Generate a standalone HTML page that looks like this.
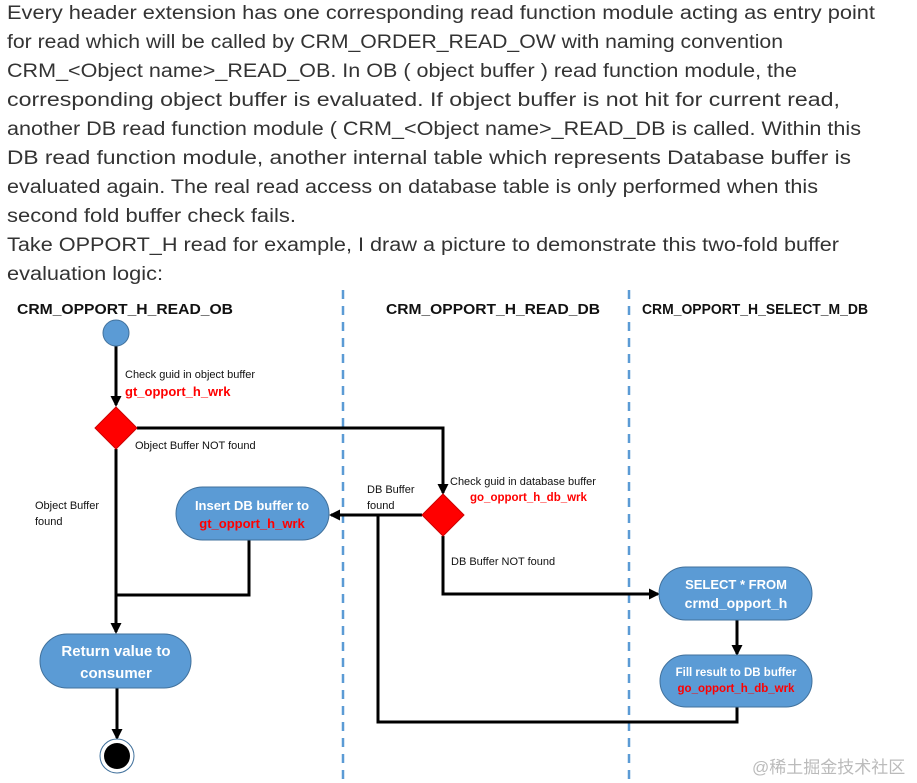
<!DOCTYPE html>
<html><head><meta charset="utf-8"><style>
html,body{margin:0;padding:0;background:#fff;width:917px;height:783px;overflow:hidden}
svg{display:block}
.p{font-family:"Liberation Sans",sans-serif;font-size:19px;fill:#333}
.h{font-family:"Liberation Sans",sans-serif;font-size:14.5px;font-weight:bold;fill:#111}
.s{font-family:"Liberation Sans",sans-serif;font-size:11px;fill:#111}
.r{font-family:"Liberation Sans",sans-serif;font-size:13px;font-weight:bold;fill:#f00}
.w{font-family:"Liberation Sans",sans-serif;font-weight:bold;fill:#fff}
</style></head><body>
<svg width="917" height="783" viewBox="0 0 917 783">
<defs><marker id="a" markerWidth="11" markerHeight="11" refX="9" refY="5.5" orient="auto" markerUnits="userSpaceOnUse"><path d="M0,0 L11,5.5 L0,11 z" fill="#000"/></marker></defs>
<g class="p">
<text x="7" y="19" textLength="868" lengthAdjust="spacingAndGlyphs">Every header extension has one corresponding read function module acting as entry point</text>
<text x="7" y="48" textLength="776" lengthAdjust="spacingAndGlyphs">for read which will be called by CRM_ORDER_READ_OW with naming convention</text>
<text x="7" y="77" textLength="790" lengthAdjust="spacingAndGlyphs">CRM_&lt;Object name&gt;_READ_OB. In OB ( object buffer ) read function module, the</text>
<text x="7" y="106" textLength="833" lengthAdjust="spacingAndGlyphs">corresponding object buffer is evaluated. If object buffer is not hit for current read,</text>
<text x="7" y="135" textLength="854" lengthAdjust="spacingAndGlyphs">another DB read function module ( CRM_&lt;Object name&gt;_READ_DB is called. Within this</text>
<text x="7" y="164" textLength="844" lengthAdjust="spacingAndGlyphs">DB read function module, another internal table which represents Database buffer is</text>
<text x="7" y="193" textLength="811" lengthAdjust="spacingAndGlyphs">evaluated again. The real read access on database table is only performed when this</text>
<text x="7" y="222" textLength="289" lengthAdjust="spacingAndGlyphs">second fold buffer check fails.</text>
<text x="7" y="251" textLength="832" lengthAdjust="spacingAndGlyphs">Take OPPORT_H read for example, I draw a picture to demonstrate this two-fold buffer</text>
<text x="7" y="280" textLength="156" lengthAdjust="spacingAndGlyphs">evaluation logic:</text>
</g>
<line x1="343" y1="290" x2="343" y2="783" stroke="#5b9bd5" stroke-width="2.5" stroke-dasharray="9,7"/>
<line x1="629" y1="290" x2="629" y2="783" stroke="#5b9bd5" stroke-width="2.5" stroke-dasharray="9,7"/>
<text class="h" x="17" y="314" textLength="216" lengthAdjust="spacingAndGlyphs">CRM_OPPORT_H_READ_OB</text>
<text class="h" x="386" y="314" textLength="214" lengthAdjust="spacingAndGlyphs">CRM_OPPORT_H_READ_DB</text>
<text class="h" x="642" y="314" textLength="226" lengthAdjust="spacingAndGlyphs">CRM_OPPORT_H_SELECT_M_DB</text>
<g stroke="#000" stroke-width="3" fill="none">
<line x1="116" y1="346" x2="116" y2="405" marker-end="url(#a)"/>
<polyline points="137,428 443,428 443,493" marker-end="url(#a)"/>
<line x1="116" y1="449" x2="116" y2="632" marker-end="url(#a)"/>
<polyline points="249,540 249,595 116,595"/>
<line x1="422" y1="515" x2="331" y2="515" marker-end="url(#a)"/>
<polyline points="378,515 378,722 737,722 737,707"/>
<polyline points="443,536 443,594 658,594" marker-end="url(#a)"/>
<line x1="737" y1="620" x2="737" y2="654" marker-end="url(#a)"/>
<line x1="117" y1="688" x2="117" y2="738" marker-end="url(#a)"/>
</g>
<circle cx="116" cy="333" r="13" fill="#5b9bd5" stroke="#41719c"/>
<polygon points="116,407 137,428 116,449 95,428" fill="#f00" stroke="#c00"/>
<polygon points="443,494 464,515 443,536 422,515" fill="#f00" stroke="#c00"/>
<rect x="176" y="487" width="153" height="53" rx="26.5" fill="#5b9bd5" stroke="#41719c"/>
<rect x="40" y="634" width="151" height="54" rx="27" fill="#5b9bd5" stroke="#41719c"/>
<rect x="659" y="567" width="153" height="53" rx="26.5" fill="#5b9bd5" stroke="#41719c"/>
<rect x="660" y="655" width="152" height="52" rx="26" fill="#5b9bd5" stroke="#41719c"/>
<circle cx="117" cy="756" r="17" fill="#fff" stroke="#41719c"/>
<circle cx="117" cy="756" r="13" fill="#000"/>
<text class="s" x="125" y="378">Check guid in object buffer</text>
<text class="r" x="125" y="396">gt_opport_h_wrk</text>
<text class="s" x="135" y="449">Object Buffer NOT found</text>
<text class="s" x="35" y="509">Object Buffer</text>
<text class="s" x="35" y="525">found</text>
<text class="s" x="367" y="493">DB Buffer</text>
<text class="s" x="367" y="509">found</text>
<text class="s" x="450" y="485">Check guid in database buffer</text>
<text class="r" x="470" y="501" style="font-size:11.5px">go_opport_h_db_wrk</text>
<text class="s" x="451" y="565">DB Buffer NOT found</text>
<text class="w" x="252" y="510" text-anchor="middle" font-size="13">Insert DB buffer to</text>
<text class="r" x="252" y="528" text-anchor="middle">gt_opport_h_wrk</text>
<text class="w" x="116" y="656" text-anchor="middle" font-size="15">Return value to</text>
<text class="w" x="116" y="678" text-anchor="middle" font-size="15">consumer</text>
<text class="w" x="736" y="589" text-anchor="middle" font-size="13">SELECT * FROM</text>
<text class="w" x="736" y="608" text-anchor="middle" font-size="14">crmd_opport_h</text>
<text class="w" x="736" y="676" text-anchor="middle" font-size="11.5">Fill result to DB buffer</text>
<text class="r" x="736" y="692" text-anchor="middle" style="font-size:11.5px">go_opport_h_db_wrk</text>
<text x="752" y="773" font-family="'Liberation Sans','Noto Sans CJK SC',sans-serif" font-size="17" fill="#bbb">@稀土掘金技术社区</text>
</svg>
</body></html>
